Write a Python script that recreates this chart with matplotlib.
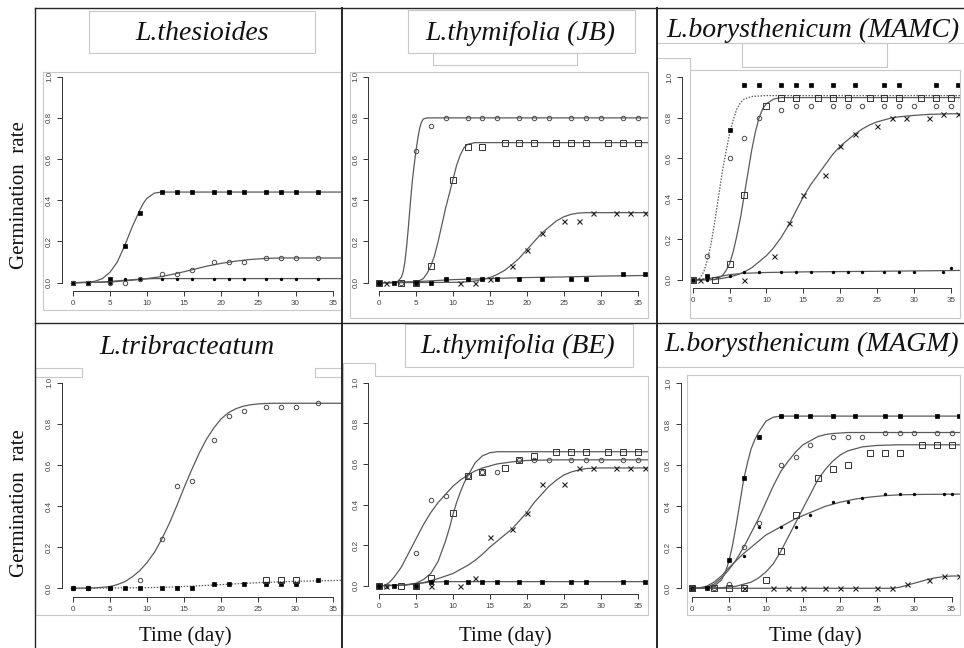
"""
Germination curves of six Limonium samples, redrawn as a 2x3 grid of
R-style panels (detached axes, fitted curves plus observed points).
"""

import matplotlib
matplotlib.use('Agg')
import matplotlib.pyplot as plt
from matplotlib.lines import Line2D

W, H = 964, 648

# ── L.thesioides ──────────────────────────────────────────────────────────────
thes_sq_day = [0, 2, 5, 7, 9, 12, 14, 16, 19, 21, 23, 26, 28, 30, 33]
thes_sq_val = [0, 0, 0.02, 0.18, 0.34, 0.44, 0.44, 0.44, 0.44, 0.44, 0.44, 0.44, 0.44, 0.44, 0.44]
thes_ci_day = [0, 2, 5, 7, 9, 12, 14, 16, 19, 21, 23, 26, 28, 30, 33]
thes_ci_val = [0, 0, 0, 0, 0.02, 0.04, 0.04, 0.06, 0.10, 0.10, 0.10, 0.12, 0.12, 0.12, 0.12]
thes_dot_day = [0, 2, 5, 7, 9, 12, 14, 16, 19, 21, 23, 26, 28, 30, 33]
thes_dot_val = [0, 0, 0, 0.02, 0.02, 0.02, 0.02, 0.02, 0.02, 0.02, 0.02, 0.02, 0.02, 0.02, 0.02]
thes_sq_fit_day = [0, 2, 3, 4, 5, 6, 6.5, 7, 7.5, 8, 8.5, 9, 9.5, 10, 11, 12, 38]
thes_sq_fit_val = [0, 0.002, 0.007, 0.02, 0.05, 0.10, 0.14, 0.18, 0.225, 0.27, 0.31, 0.35, 0.385, 0.41, 0.435, 0.44, 0.44]
thes_ci_fit_day = [0, 5, 8, 10, 12, 14, 16, 18, 20, 22, 24, 26, 28, 38]
thes_ci_fit_val = [0, 0.003, 0.012, 0.02, 0.03, 0.045, 0.062, 0.08, 0.094, 0.105, 0.113, 0.118, 0.12, 0.12]
thes_dot_fit_day = [0, 3, 5, 7, 9, 11, 13, 38]
thes_dot_fit_val = [0, 0.002, 0.006, 0.012, 0.017, 0.02, 0.02, 0.02]

# ── L.thymifolia (JB) ─────────────────────────────────────────────────────────
jb_ci_day = [0, 3, 5, 7, 9, 12, 14, 16, 19, 21, 23, 26, 28, 30, 33, 35]
jb_ci_val = [0, 0, 0.64, 0.76, 0.80, 0.80, 0.80, 0.80, 0.80, 0.80, 0.80, 0.80, 0.80, 0.80, 0.80, 0.80]
jb_osq_day = [0, 3, 5, 7, 10, 12, 14, 17, 19, 21, 24, 26, 28, 31, 33, 35]
jb_osq_val = [0, 0, 0, 0.08, 0.50, 0.66, 0.66, 0.68, 0.68, 0.68, 0.68, 0.68, 0.68, 0.68, 0.68, 0.68]
jb_x_day = [1, 11, 13, 15, 18, 20, 22, 25, 27, 29, 32, 34, 36]
jb_x_val = [0, 0, 0, 0.02, 0.08, 0.16, 0.24, 0.30, 0.30, 0.34, 0.34, 0.34, 0.34]
jb_sq_day = [0, 2, 5, 7, 9, 12, 14, 16, 19, 22, 26, 28, 33, 36]
jb_sq_val = [0, 0, 0, 0, 0.02, 0.02, 0.02, 0.02, 0.02, 0.02, 0.02, 0.02, 0.04, 0.04]
jb_ci_fit_day = [0, 2, 2.5, 3, 3.25, 3.5, 3.75, 4, 4.25, 4.5, 4.75, 5, 5.25, 5.5, 5.75, 6, 6.5, 38]
jb_ci_fit_val = [0, 0, 0.005, 0.025, 0.05, 0.10, 0.18, 0.28, 0.39, 0.49, 0.57, 0.64, 0.70, 0.75, 0.78, 0.795, 0.80, 0.80]
jb_osq_fit_day = [0, 5, 6, 6.5, 7, 7.5, 8, 8.5, 9, 9.5, 10, 10.5, 11, 11.5, 12, 13, 38]
jb_osq_fit_val = [0, 0.002, 0.02, 0.045, 0.08, 0.13, 0.20, 0.28, 0.36, 0.43, 0.50, 0.57, 0.62, 0.655, 0.672, 0.68, 0.68]
jb_x_fit_day = [0, 11, 13, 15, 16, 17, 18, 19, 20, 21, 22, 23, 24, 25, 26, 27, 28, 30, 38]
jb_x_fit_val = [0, 0.002, 0.008, 0.025, 0.04, 0.06, 0.088, 0.12, 0.16, 0.20, 0.24, 0.27, 0.30, 0.32, 0.332, 0.338, 0.34, 0.34, 0.34]
jb_sq_fit_day = [0, 5, 10, 15, 20, 25, 30, 38]
jb_sq_fit_val = [0, 0.005, 0.015, 0.02, 0.025, 0.028, 0.032, 0.036]

# ── L.borysthenicum (MAMC) ────────────────────────────────────────────────────
mamc_sq_day = [0, 2, 5, 7, 9, 12, 14, 16, 19, 22, 26, 28, 33, 36]
mamc_sq_val = [0, 0.02, 0.74, 0.96, 0.96, 0.96, 0.96, 0.96, 0.96, 0.96, 0.96, 0.96, 0.96, 0.96]
mamc_osq_day = [0, 3, 5, 7, 10, 12, 14, 17, 19, 21, 24, 26, 28, 31, 33, 35]
mamc_osq_val = [0, 0, 0.08, 0.42, 0.86, 0.90, 0.90, 0.90, 0.90, 0.90, 0.90, 0.90, 0.90, 0.90, 0.90, 0.90]
mamc_ci_day = [0, 2, 5, 7, 9, 12, 14, 16, 19, 21, 23, 26, 28, 30, 33, 35]
mamc_ci_val = [0, 0.12, 0.60, 0.70, 0.80, 0.84, 0.86, 0.86, 0.86, 0.86, 0.86, 0.86, 0.86, 0.86, 0.86, 0.86]
mamc_x_day = [1, 7, 11, 13, 15, 18, 20, 22, 25, 27, 29, 32, 34, 36]
mamc_x_val = [0, 0, 0.12, 0.28, 0.42, 0.52, 0.66, 0.72, 0.76, 0.80, 0.80, 0.80, 0.82, 0.82]
mamc_dot_day = [0, 2, 5, 7, 9, 12, 14, 16, 19, 21, 23, 26, 28, 30, 34, 35]
mamc_dot_val = [0, 0, 0.02, 0.04, 0.04, 0.04, 0.04, 0.04, 0.04, 0.04, 0.04, 0.04, 0.04, 0.04, 0.04, 0.06]
mamc_sq_fit_day = [0.5, 1, 1.5, 2, 2.5, 3, 3.5, 4, 4.5, 5, 5.5, 6, 6.5, 7, 8, 10, 38]
mamc_sq_fit_val = [0, 0.01, 0.04, 0.10, 0.18, 0.29, 0.41, 0.53, 0.63, 0.72, 0.79, 0.845, 0.875, 0.893, 0.905, 0.91, 0.91]
mamc_osq_fit_day = [0, 3, 4, 4.5, 5, 5.5, 6, 6.5, 7, 7.5, 8, 8.5, 9, 9.5, 10, 11, 12, 38]
mamc_osq_fit_val = [0, 0.002, 0.02, 0.045, 0.08, 0.14, 0.22, 0.31, 0.42, 0.53, 0.64, 0.73, 0.80, 0.845, 0.87, 0.893, 0.90, 0.90]
mamc_x_fit_day = [0, 3, 4, 5, 6, 7, 8, 9, 10, 11, 12, 13, 14, 15, 16, 17, 18, 19, 20,
                  21, 22, 23, 24, 25, 26, 27, 28, 30, 32, 35, 38]
mamc_x_fit_val = [0, 0.003, 0.008, 0.015, 0.025, 0.04, 0.06, 0.09, 0.12, 0.16, 0.21, 0.27, 0.34, 0.41, 0.47, 0.52, 0.57, 0.62, 0.66,
                  0.69, 0.72, 0.745, 0.765, 0.78, 0.79, 0.80, 0.805, 0.812, 0.817, 0.82, 0.82]
mamc_dot_fit_day = [0, 1, 2, 3, 4, 5, 6, 7, 10, 15, 25, 36, 38]
mamc_dot_fit_val = [0, 0.002, 0.006, 0.012, 0.02, 0.026, 0.03, 0.033, 0.037, 0.04, 0.043, 0.047, 0.048]

# ── L.tribracteatum ───────────────────────────────────────────────────────────
trib_ci_day = [0, 2, 5, 9, 12, 14, 16, 19, 21, 23, 26, 28, 30, 33]
trib_ci_val = [0, 0, 0, 0.04, 0.24, 0.50, 0.52, 0.72, 0.84, 0.86, 0.88, 0.88, 0.88, 0.90]
trib_sq_day = [0, 2, 5, 7, 9, 12, 14, 16, 19, 21, 23, 26, 28, 30, 33]
trib_sq_val = [0, 0, 0, 0, 0, 0, 0, 0, 0.02, 0.02, 0.02, 0.02, 0.02, 0.02, 0.04]
trib_osq_day = [26, 28, 30]
trib_osq_val = [0.04, 0.04, 0.04]
trib_ci_fit_day = [0, 3, 5, 6, 7, 8, 9, 10, 11, 12, 13, 14, 15, 16, 17, 18, 19, 20, 21, 22, 23, 24, 25, 26, 27, 38]
trib_ci_fit_val = [0, 0.002, 0.008, 0.018, 0.032, 0.055, 0.085, 0.125, 0.175, 0.24, 0.315, 0.40, 0.49, 0.575,
                   0.655, 0.725, 0.78, 0.825, 0.855, 0.874, 0.886, 0.893, 0.897, 0.899, 0.90, 0.90]
trib_sq_fit_day = [0, 10, 14, 18, 22, 26, 30, 38]
trib_sq_fit_val = [0, 0.003, 0.007, 0.014, 0.022, 0.029, 0.034, 0.04]

# ── L.thymifolia (BE) ─────────────────────────────────────────────────────────
be_ci_day = [0, 1, 5, 7, 9, 12, 14, 16, 19, 21, 23, 26, 28, 30, 33, 35]
be_ci_val = [0, 0, 0.16, 0.42, 0.44, 0.54, 0.56, 0.56, 0.62, 0.62, 0.62, 0.62, 0.62, 0.62, 0.62, 0.62]
be_osq_day = [0, 3, 5, 7, 10, 12, 14, 17, 19, 21, 24, 26, 28, 31, 33, 35]
be_osq_val = [0, 0, 0, 0.04, 0.36, 0.54, 0.56, 0.58, 0.62, 0.64, 0.66, 0.66, 0.66, 0.66, 0.66, 0.66]
be_x_day = [1, 7, 11, 13, 15, 18, 20, 22, 25, 27, 29, 32, 34, 36]
be_x_val = [0, 0, 0, 0.04, 0.24, 0.28, 0.36, 0.50, 0.50, 0.58, 0.58, 0.58, 0.58, 0.58]
be_sq_day = [0, 2, 5, 7, 9, 12, 14, 16, 19, 22, 26, 28, 33, 36]
be_sq_val = [0, 0, 0, 0.02, 0.02, 0.02, 0.02, 0.02, 0.02, 0.02, 0.02, 0.02, 0.02, 0.02]
be_ci_fit_day = [0.8, 1.5, 2, 3, 4, 5, 6, 7, 8, 9, 10, 11, 12, 13, 14, 15, 16, 18, 20, 24, 38]
be_ci_fit_val = [0, 0.02, 0.04, 0.09, 0.16, 0.23, 0.30, 0.36, 0.41, 0.45, 0.49, 0.52, 0.545, 0.565, 0.58,
                 0.59, 0.60, 0.61, 0.617, 0.62, 0.62]
be_osq_fit_day = [0, 3, 4, 5, 6, 7, 8, 8.5, 9, 9.5, 10, 10.5, 11, 11.5, 12, 13, 14, 15, 16, 38]
be_osq_fit_val = [0, 0.002, 0.005, 0.012, 0.03, 0.06, 0.12, 0.17, 0.22, 0.28, 0.35, 0.41, 0.46, 0.505,
                  0.54, 0.605, 0.64, 0.655, 0.66, 0.66]
be_x_fit_day = [1, 4, 6, 8, 10, 11, 12, 13, 14, 15, 16, 17, 18, 19, 20, 21, 22, 23, 24, 25, 26, 27, 28, 30, 38]
be_x_fit_val = [0, 0.005, 0.015, 0.035, 0.06, 0.08, 0.10, 0.125, 0.155, 0.19, 0.22, 0.25, 0.28, 0.32,
                0.36, 0.41, 0.45, 0.49, 0.52, 0.545, 0.56, 0.57, 0.577, 0.58, 0.58]
be_sq_fit_day = [0, 3, 5, 7, 9, 38]
be_sq_fit_val = [0, 0.003, 0.01, 0.018, 0.02, 0.02]

# ── L.borysthenicum (MAGM) ────────────────────────────────────────────────────
magm_sq_day = [0, 2, 5, 7, 9, 12, 14, 16, 19, 22, 26, 28, 33, 36]
magm_sq_val = [0, 0, 0.14, 0.54, 0.74, 0.84, 0.84, 0.84, 0.84, 0.84, 0.84, 0.84, 0.84, 0.84]
magm_ci_day = [0, 3, 5, 7, 9, 12, 14, 16, 19, 21, 23, 26, 28, 30, 33, 35]
magm_ci_val = [0, 0, 0.02, 0.20, 0.32, 0.60, 0.64, 0.70, 0.74, 0.74, 0.74, 0.76, 0.76, 0.76, 0.76, 0.76]
magm_osq_day = [0, 3, 5, 7, 10, 12, 14, 17, 19, 21, 24, 26, 28, 31, 33, 35]
magm_osq_val = [0, 0, 0, 0, 0.04, 0.18, 0.36, 0.54, 0.58, 0.60, 0.66, 0.66, 0.66, 0.70, 0.70, 0.70]
magm_dot_day = [0, 2, 7, 9, 12, 14, 16, 19, 21, 23, 26, 28, 30, 34, 35]
magm_dot_val = [0, 0, 0.16, 0.30, 0.30, 0.30, 0.36, 0.42, 0.42, 0.44, 0.46, 0.46, 0.46, 0.46, 0.46]
magm_x_day = [0, 7, 11, 13, 15, 18, 20, 22, 25, 27, 29, 32, 34, 36]
magm_x_val = [0, 0, 0, 0, 0, 0, 0, 0, 0, 0, 0.02, 0.04, 0.06, 0.06]
magm_sq_fit_day = [0, 2, 3, 4, 4.5, 5, 5.5, 6, 6.5, 7, 7.5, 8, 8.5, 9, 10, 11, 12, 38]
magm_sq_fit_val = [0, 0.002, 0.01, 0.04, 0.075, 0.13, 0.21, 0.31, 0.42, 0.53, 0.61, 0.68, 0.725, 0.76, 0.815, 0.835, 0.84, 0.84]
magm_ci_fit_day = [0, 2, 3, 4, 5, 6, 7, 8, 9, 10, 11, 12, 13, 14, 15, 16, 17, 18, 19, 21, 38]
magm_ci_fit_val = [0, 0.005, 0.02, 0.05, 0.09, 0.14, 0.20, 0.27, 0.34, 0.42, 0.50, 0.57, 0.62, 0.665,
                   0.70, 0.72, 0.74, 0.75, 0.755, 0.76, 0.76]
magm_osq_fit_day = [0, 4, 6, 8, 9, 10, 11, 12, 13, 14, 15, 16, 17, 18, 19, 20, 21, 22, 23, 25, 28, 38]
magm_osq_fit_val = [0, 0.003, 0.01, 0.03, 0.05, 0.08, 0.12, 0.18, 0.25, 0.32, 0.39, 0.46, 0.53, 0.58,
                    0.62, 0.65, 0.67, 0.68, 0.69, 0.697, 0.70, 0.70]
magm_dot_fit_day = [0, 1, 2, 3, 4, 5, 6, 7, 8, 9, 10, 11, 12, 13, 14, 15, 16, 17, 18, 19, 20, 22, 24, 26, 28, 31, 38]
magm_dot_fit_val = [0, 0.002, 0.01, 0.03, 0.06, 0.10, 0.135, 0.17, 0.20, 0.23, 0.26, 0.28, 0.30, 0.32, 0.34,
                    0.355, 0.37, 0.385, 0.40, 0.41, 0.42, 0.435, 0.445, 0.452, 0.456, 0.458, 0.46]
magm_x_fit_day = [0, 27, 28, 29, 30, 31, 32, 33, 34, 35, 38]
magm_x_fit_val = [0, 0, 0.005, 0.015, 0.025, 0.035, 0.045, 0.052, 0.057, 0.06, 0.06]

TITLES = ['L.thesioides', 'L.thymifolia (JB)', 'L.borysthenicum (MAMC)',
          'L.tribracteatum', 'L.thymifolia (BE)', 'L.borysthenicum (MAGM)']
Y_TICKS = [0.0, 0.2, 0.4, 0.6, 0.8, 1.0]
X_TICKS = [0, 5, 10, 15, 20, 25, 30, 35]

# ── Styles ────────────────────────────────────────────────────────────────────
SERIF = ['Liberation Serif', 'DejaVu Serif']
SANS = ['Liberation Sans', 'DejaVu Sans']
CURVE = '#5a5a5a'
FRAME = '#c8c8c8'
DARK = '#262626'

MARKERS = {
    'sq':  dict(marker='s', ms=3.2, mfc='black', mec='black', mew=0.5),
    'ci':  dict(marker='o', ms=3.2, mfc='none', mec='#4a4a4a', mew=0.7),
    'osq': dict(marker='s', ms=3.9, mfc='none', mec='#333333', mew=0.7),
    'x':   dict(marker='x', ms=3.6, mec='#222222', mew=0.8),
    'dot': dict(marker='o', ms=2.1, mfc='black', mec='black', mew=0.3),
}

# panel layout in source pixels: day 0 / day 35 x, value 0 / value 1 y, right crop
LAYOUT = [
    (72.7, 332.7, 282.7, 76.7, 341),
    (379.0, 637.7, 282.7, 76.7, 648),
    (692.7, 950.7, 280.0, 77.3, 960),
    (72.7, 332.7, 588.3, 382.7, 341),
    (379.0, 637.7, 585.7, 382.7, 648),
    (691.7, 951.5, 588.3, 383.3, 960),
]


def px_line(fig, xs, ys, color=FRAME, lw=0.8):
    fig.add_artist(Line2D([x / W for x in xs], [1 - y / H for y in ys],
                          color=color, lw=lw, transform=fig.transFigure))


def px_box(fig, l, t, r, b, color=FRAME, lw=0.8):
    px_line(fig, [l, r, r, l, l], [t, t, b, b, t], color, lw)


def make_axes(fig, x0, x35, y0, y1, xr):
    sx = (x35 - x0) / 35.0
    sy = y0 - y1
    left = x0 - 1.44 * sx
    bottom = y0 + 0.04 * sy
    top = y1 - 0.04 * sy
    ax = fig.add_axes([left / W, 1 - bottom / H, (xr - left) / W, (bottom - top) / H])
    ax.set_xlim(-1.44, (xr - x0) / sx)
    ax.set_ylim(-0.04, 1.04)
    ax.patch.set_alpha(0)
    for s in ('top', 'right'):
        ax.spines[s].set_visible(False)
    ax.spines['left'].set_bounds(0, 1)
    ax.spines['bottom'].set_bounds(0, 35)
    for s in ('left', 'bottom'):
        ax.spines[s].set_color('#333333')
        ax.spines[s].set_linewidth(0.7)
    ax.set_xticks(X_TICKS)
    ax.set_yticks(Y_TICKS)
    ax.set_xticklabels([str(t) for t in X_TICKS], family=SANS)
    ax.set_yticklabels([f'{t:.1f}' for t in Y_TICKS], family=SANS, rotation=90, va='center')
    ax.tick_params(direction='out', length=3.5, width=0.7, color='#333333',
                   labelsize=5.8, labelcolor='#444444', pad=3)
    return ax


def draw_series(ax, day, val, kind, fit_day=None, fit_val=None, ls='-'):
    if fit_day is not None:
        ax.plot(fit_day, fit_val, color=CURVE, lw=0.9, ls=ls, zorder=2)
    ax.plot(day, val, ls='none', zorder=3, **MARKERS[kind])


fig = plt.figure(figsize=(W / 100, H / 100), dpi=100)
fig.patch.set_facecolor('white')

axes = [make_axes(fig, *lay) for lay in LAYOUT]

# L.thesioides
ax = axes[0]
draw_series(ax, thes_sq_day, thes_sq_val, 'sq', thes_sq_fit_day, thes_sq_fit_val)
draw_series(ax, thes_ci_day, thes_ci_val, 'ci', thes_ci_fit_day, thes_ci_fit_val)
draw_series(ax, thes_dot_day, thes_dot_val, 'dot', thes_dot_fit_day, thes_dot_fit_val)

# L.thymifolia (JB)
ax = axes[1]
draw_series(ax, jb_ci_day, jb_ci_val, 'ci', jb_ci_fit_day, jb_ci_fit_val)
draw_series(ax, jb_osq_day, jb_osq_val, 'osq', jb_osq_fit_day, jb_osq_fit_val)
draw_series(ax, jb_x_day, jb_x_val, 'x', jb_x_fit_day, jb_x_fit_val)
draw_series(ax, jb_sq_day, jb_sq_val, 'sq', jb_sq_fit_day, jb_sq_fit_val)

# L.borysthenicum (MAMC)
ax = axes[2]
draw_series(ax, mamc_sq_day, mamc_sq_val, 'sq', mamc_sq_fit_day, mamc_sq_fit_val, ls=(0, (1.2, 1.2)))
draw_series(ax, mamc_osq_day, mamc_osq_val, 'osq', mamc_osq_fit_day, mamc_osq_fit_val)
draw_series(ax, mamc_ci_day, mamc_ci_val, 'ci')
draw_series(ax, mamc_x_day, mamc_x_val, 'x', mamc_x_fit_day, mamc_x_fit_val)
draw_series(ax, mamc_dot_day, mamc_dot_val, 'dot', mamc_dot_fit_day, mamc_dot_fit_val)

# L.tribracteatum
ax = axes[3]
draw_series(ax, trib_ci_day, trib_ci_val, 'ci', trib_ci_fit_day, trib_ci_fit_val)
draw_series(ax, trib_sq_day, trib_sq_val, 'sq', trib_sq_fit_day, trib_sq_fit_val, ls=(0, (1.2, 1.2)))
draw_series(ax, trib_osq_day, trib_osq_val, 'osq')

# L.thymifolia (BE)
ax = axes[4]
draw_series(ax, be_ci_day, be_ci_val, 'ci', be_ci_fit_day, be_ci_fit_val)
draw_series(ax, be_osq_day, be_osq_val, 'osq', be_osq_fit_day, be_osq_fit_val)
draw_series(ax, be_x_day, be_x_val, 'x', be_x_fit_day, be_x_fit_val)
draw_series(ax, be_sq_day, be_sq_val, 'sq', be_sq_fit_day, be_sq_fit_val)

# L.borysthenicum (MAGM)
ax = axes[5]
draw_series(ax, magm_sq_day, magm_sq_val, 'sq', magm_sq_fit_day, magm_sq_fit_val)
draw_series(ax, magm_ci_day, magm_ci_val, 'ci', magm_ci_fit_day, magm_ci_fit_val)
draw_series(ax, magm_osq_day, magm_osq_val, 'osq', magm_osq_fit_day, magm_osq_fit_val)
draw_series(ax, magm_dot_day, magm_dot_val, 'dot', magm_dot_fit_day, magm_dot_fit_val)
draw_series(ax, magm_x_day, magm_x_val, 'x', magm_x_fit_day, magm_x_fit_val)

# ── Light frames left over from the composed figure ───────────────────────────
px_box(fig, 43, 72, 341, 310)
px_box(fig, 89, 11, 315, 53)
px_box(fig, 350, 72, 648, 318)
px_box(fig, 408, 10, 635, 53)
px_box(fig, 433, 53, 577, 65)
px_line(fig, [657, 964], [43, 43])
px_box(fig, 742, 43, 887, 67)
px_line(fig, [658, 690, 690], [58, 58, 70])
px_box(fig, 690, 70, 960, 318)
px_box(fig, 35, 368, 82, 377)
px_box(fig, 315, 368, 343, 377)
px_line(fig, [35, 35, 341, 341], [377, 615, 615, 377])
px_line(fig, [343, 343, 375, 375, 648, 648, 343], [615, 363, 363, 376, 376, 615, 615])
px_box(fig, 405, 324, 633, 367)
px_line(fig, [658, 964], [367, 367])
px_box(fig, 687, 375, 960, 615)

# ── Dark panel dividers ───────────────────────────────────────────────────────
px_line(fig, [35, 964], [8, 8], DARK, 1.0)
px_line(fig, [35, 35], [8, 648], DARK, 1.0)
px_line(fig, [342, 342], [8, 648], DARK, 1.4)
px_line(fig, [657, 657], [8, 648], DARK, 1.4)
px_line(fig, [35, 964], [323, 323], DARK, 1.0)

# ── Text ──────────────────────────────────────────────────────────────────────
title_pos = [(202, 33), (520, 33), (813, 30), (187, 347), (518, 346), (812, 344)]
for (cx, cy), title in zip(title_pos, TITLES):
    fig.text(cx / W, 1 - cy / H, title, family=SERIF, style='italic', fontsize=20,
             ha='center', va='center', color='#111111')

for cy in (195, 503):
    fig.text(20 / W, 1 - cy / H, 'Germination  rate', family=SERIF, fontsize=15,
             rotation=90, ha='center', va='center', color='#111111')

for cx in (185, 505, 815):
    fig.text(cx / W, 1 - 636 / H, 'Time (day)', family=SERIF, fontsize=15,
             ha='center', va='center', color='#111111')

fig.savefig('out.png', dpi=100)
